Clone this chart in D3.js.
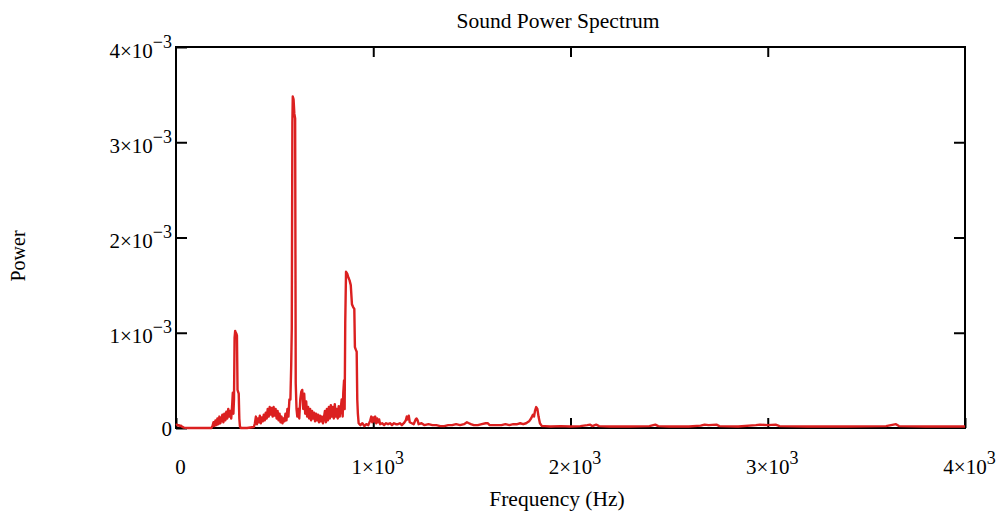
<!DOCTYPE html>
<html>
<head>
<meta charset="utf-8">
<script src="https://cdn.jsdelivr.net/npm/d3@7"></script>
<style>
    body { margin: 0; background: #fff; }
    svg { display: block; }
    svg text { font-family: "Liberation Serif", "Times New Roman", serif; }
</style>
</head>
<body>
<div id="chart"></div>
<script>
// spectrum: [frequency Hz, power x 1e-3]
const lowBand = [[0, 0.03], [5, 0.035], [10, 0.025], [15, 0.03], [20, 0.02], [25, 0.025], [30, 0.015],
    [40, 0.004], [60, 0], [120, 0], [180, 0]];

const band300 = [[185, 0.02], [190, 0.06], [195, 0.02], [200, 0.08], [205, 0.03], [210, 0.1], [215, 0.04],
    [220, 0.12], [225, 0.05], [230, 0.09], [235, 0.14], [240, 0.06], [245, 0.15], [250, 0.08], [255, 0.17],
    [260, 0.1], [265, 0.2], [270, 0.12], [275, 0.18], [280, 0.1], [285, 0.25], [288, 0.37], [291, 0.15],
    [294, 0.3], [297, 0.95], [300, 1.02], [303, 1.0], [306, 0.99], [309, 0.97], [312, 0.4], [315, 0.38],
    [318, 0.36], [321, 0.1], [324, 0.02], [328, 0], [360, 0], [395, 0.01]];

const band600 = [[400, 0.05], [405, 0.12], [410, 0.04], [415, 0.1], [420, 0.06], [425, 0.13], [430, 0.05],
    [435, 0.11], [440, 0.07], [445, 0.14], [450, 0.08], [455, 0.16], [460, 0.1], [465, 0.2], [470, 0.12],
    [475, 0.22], [480, 0.14], [485, 0.21], [490, 0.12], [495, 0.22], [500, 0.13], [505, 0.2], [510, 0.1],
    [515, 0.18], [520, 0.08], [525, 0.15], [530, 0.06], [535, 0.12], [540, 0.05], [545, 0.1], [550, 0.07],
    [555, 0.15], [560, 0.08], [565, 0.2], [570, 0.12], [575, 0.3], [580, 0.3], [584, 0.65], [587, 1.05],
    [590, 3.2], [592, 3.48], [596, 3.45], [600, 3.3], [604, 3.25], [607, 0.47], [611, 0.2], [615, 0.12],
    [620, 0.2], [625, 0.1], [630, 0.3], [635, 0.38], [640, 0.4], [645, 0.2], [650, 0.36], [655, 0.15],
    [660, 0.28], [665, 0.12], [670, 0.22], [675, 0.1], [680, 0.2], [685, 0.08], [690, 0.18], [695, 0.1],
    [700, 0.16], [705, 0.07], [710, 0.15], [715, 0.08], [720, 0.14], [725, 0.06], [730, 0.13], [735, 0.07],
    [740, 0.12], [745, 0.05]];

const band870 = [[750, 0.11], [755, 0.18], [760, 0.06], [765, 0.2], [770, 0.08], [775, 0.22], [780, 0.1],
    [785, 0.24], [790, 0.12], [795, 0.22], [800, 0.1], [805, 0.25], [810, 0.12], [815, 0.2], [820, 0.1],
    [825, 0.23], [830, 0.12], [835, 0.2], [840, 0.3], [845, 0.12], [848, 0.37], [852, 0.5], [855, 0.2],
    [858, 1.1], [862, 1.64], [868, 1.62], [874, 1.58], [880, 1.55], [886, 1.5], [892, 1.3], [898, 1.27],
    [904, 1.25], [907, 0.85], [912, 0.82], [916, 0.8], [919, 0.3], [922, 0.15], [926, 0.05]];

const midBand = [[935, 0.03], [945, 0.05], [955, 0.02], [965, 0.04], [975, 0.03], [985, 0.08], [990, 0.12],
    [995, 0.06], [1000, 0.11], [1005, 0.07], [1010, 0.12], [1015, 0.05], [1020, 0.1], [1025, 0.06],
    [1030, 0.09], [1035, 0.04], [1045, 0.05], [1055, 0.03], [1065, 0.05], [1075, 0.04], [1085, 0.05],
    [1095, 0.03], [1105, 0.05], [1115, 0.04], [1125, 0.04], [1135, 0.05], [1145, 0.03], [1155, 0.05],
    [1165, 0.08], [1170, 0.12], [1175, 0.09], [1180, 0.13], [1185, 0.06], [1195, 0.05], [1205, 0.04],
    [1215, 0.09], [1220, 0.1], [1225, 0.08], [1230, 0.04], [1245, 0.05], [1260, 0.03], [1280, 0.04],
    [1300, 0.03], [1320, 0.03], [1340, 0.02], [1360, 0.02], [1380, 0.03], [1400, 0.03], [1420, 0.04],
    [1440, 0.03], [1460, 0.04], [1475, 0.06], [1485, 0.05], [1495, 0.04], [1510, 0.03], [1530, 0.03],
    [1550, 0.04], [1570, 0.05], [1580, 0.05], [1590, 0.03], [1610, 0.03], [1630, 0.03], [1650, 0.03],
    [1670, 0.04], [1690, 0.03], [1710, 0.04], [1730, 0.04], [1745, 0.05], [1760, 0.04], [1775, 0.05],
    [1790, 0.07], [1800, 0.1], [1810, 0.14], [1815, 0.12], [1820, 0.18], [1826, 0.22], [1832, 0.2],
    [1838, 0.12], [1845, 0.05], [1855, 0.02]];

const highBand = [[1870, 0.02], [1900, 0.015], [1950, 0.02], [2000, 0.015], [2050, 0.02], [2085, 0.03],
    [2100, 0.035], [2110, 0.02], [2130, 0.035], [2145, 0.02], [2200, 0.015], [2300, 0.015], [2400, 0.02],
    [2430, 0.035], [2445, 0.02], [2500, 0.015], [2600, 0.015], [2660, 0.025], [2680, 0.035], [2700, 0.03],
    [2740, 0.035], [2755, 0.02], [2850, 0.015], [2940, 0.03], [2960, 0.035], [3000, 0.03], [3040, 0.035],
    [3060, 0.02], [3200, 0.015], [3400, 0.015], [3600, 0.02], [3650, 0.04], [3665, 0.02], [3800, 0.015],
    [4000, 0.015]];

const xTicks = [0, 1000, 2000, 3000, 4000];
const yTicks = [0, 0.001, 0.002, 0.003, 0.004];

const spectrum = [...lowBand, ...band300, ...band600, ...band870, ...midBand, ...highBand]
    .map(d => ({ freq: d[0], power: d[1] * 1e-3 }));

const width = 1002, height = 517;
const margin = { top: 47, right: 37, bottom: 89, left: 176 };
const innerW = width - margin.left - margin.right;
const innerH = height - margin.top - margin.bottom;

const svg = d3.select("#chart").append("svg")
    .attr("width", width)
    .attr("height", height);

const g = svg.append("g")
    .attr("transform", `translate(${margin.left},${margin.top})`);

const x = d3.scaleLinear().domain([0, 4000]).range([0, innerW]);
const y = d3.scaleLinear().domain([0, 0.004]).range([innerH, 0]);

// exponent labels like 4x10^-3
function sciLabel(sel, mant, exp) {
    sel.text(null);
    if (mant === 0) { sel.text("0"); return; }
    sel.append("tspan").text(mant + "\u00d710");
    sel.append("tspan").attr("dy", -10).attr("font-size", 18).text(exp);
}

// bottom ticks (inward)
const xAxisG = g.append("g")
    .attr("transform", `translate(0,${innerH})`)
    .call(d3.axisBottom(x).tickValues(xTicks).tickSize(-10).tickSizeOuter(0).tickFormat(""));
xAxisG.select(".domain").remove();
xAxisG.selectAll(".tick line").attr("stroke", "#000").attr("stroke-width", 2);
xAxisG.selectAll(".tick text")
    .attr("y", 46).attr("dy", 0).attr("dx", 4)
    .attr("font-size", 21).attr("fill", "#000")
    .each(function (d) { sciLabel(d3.select(this), d / 1000, "3"); });

// top ticks
const topG = g.append("g")
    .call(d3.axisTop(x).tickValues(xTicks.slice(1, -1)).tickSize(-10).tickSizeOuter(0).tickFormat(""));
topG.select(".domain").remove();
topG.selectAll(".tick line").attr("stroke", "#000").attr("stroke-width", 2);

// left ticks + labels
const yAxisG = g.append("g")
    .call(d3.axisLeft(y).tickValues(yTicks).tickSize(-11).tickSizeOuter(0).tickFormat(""));
yAxisG.select(".domain").remove();
yAxisG.selectAll(".tick line").attr("stroke", "#000").attr("stroke-width", 2);
yAxisG.selectAll(".tick text")
    .attr("x", -4).attr("dy", d => d === 0 ? 7 : 10)
    .attr("font-size", 21).attr("fill", "#000")
    .attr("text-anchor", "end")
    .each(function (d) { sciLabel(d3.select(this), Math.round(d * 1000), "\u22123"); });

// right ticks
const rightG = g.append("g")
    .attr("transform", `translate(${innerW},0)`)
    .call(d3.axisRight(y).tickValues(yTicks.slice(1, -1)).tickSize(-11).tickSizeOuter(0).tickFormat(""));
rightG.select(".domain").remove();
rightG.selectAll(".tick line").attr("stroke", "#000").attr("stroke-width", 2);

// frame
g.append("rect")
    .attr("width", innerW)
    .attr("height", innerH)
    .attr("fill", "none")
    .attr("stroke", "#000")
    .attr("stroke-width", 2);

// spectrum line
const line = d3.line()
    .x(d => x(d.freq))
    .y(d => y(d.power));

g.append("path")
    .datum(spectrum)
    .attr("d", line)
    .attr("fill", "none")
    .attr("stroke", "#db2020")
    .attr("stroke-width", 2.4)
    .attr("stroke-linejoin", "round");

// titles
svg.append("text")
    .attr("x", 558).attr("y", 28)
    .attr("text-anchor", "middle")
    .attr("font-size", 21.5)
    .text("Sound Power Spectrum");

svg.append("text")
    .attr("x", 557).attr("y", 506)
    .attr("text-anchor", "middle")
    .attr("font-size", 21.5)
    .text("Frequency (Hz)");

svg.append("text")
    .attr("transform", "translate(25,256) rotate(-90)")
    .attr("text-anchor", "middle")
    .attr("font-size", 20)
    .text("Power");
</script>
</body>
</html>
